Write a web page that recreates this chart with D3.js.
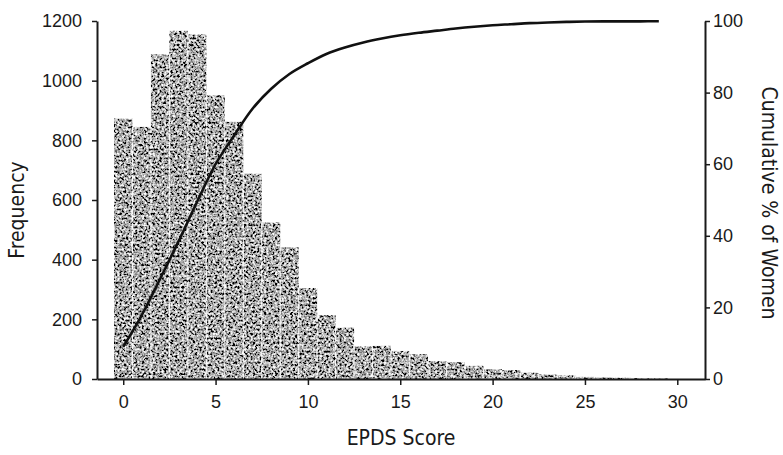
<!DOCTYPE html>
<html>
<head>
<meta charset="utf-8">
<script src="https://cdn.jsdelivr.net/npm/d3@7"></script>
<style>
  body { margin: 0; background: #fff; }
  svg { display: block; font-family: "DejaVu Sans Condensed", "Liberation Sans", Arial, sans-serif; }
  .axis path, .axis line { stroke: #1a1a1a; stroke-width: 1.5; }
  .axis text { fill: #1a1a1a; font-size: 18px; }
</style>
</head>
<body>
<script>
// EPDS score histogram with cumulative percentage curve
var scores = [0, 1, 2, 3, 4, 5, 6, 7, 8, 9, 10, 11, 12, 13, 14, 15,
              16, 17, 18, 19, 20, 21, 22, 23, 24, 25, 26, 27, 28, 29];
var frequency = [873, 845, 1088, 1167, 1155, 951, 862, 688, 525, 441, 305, 214, 172, 109, 111,
                 94, 83, 60, 56, 44, 33, 30, 21, 15, 12, 7, 5, 4, 3, 2];
var cumulativePct = [9, 17.8, 28, 38.5, 49.5, 60, 68, 75.5, 81, 85.2, 88.2, 90.8, 92.6, 94, 95.1,
                     96, 96.7, 97.3, 97.9, 98.4, 98.8, 99.1, 99.4, 99.6, 99.75, 99.85, 99.9, 99.9, 99.9, 99.95];
var xTicks = [0, 5, 10, 15, 20, 25, 30];
var freqTicks = [0, 200, 400, 600, 800, 1000, 1200];
var pctTicks = [0, 20, 40, 60, 80, 100];

var width = 783,
    height = 455,
    plotLeft = 97,
    plotRight = 705,
    plotTop = 21,
    plotBottom = 379;

var svg = d3.select("body").append("svg")
    .attr("width", width)
    .attr("height", height);

var xScale = d3.scaleLinear()
               .domain([-1.42, 31.5])
               .range([plotLeft, plotRight]);

var yScale = d3.scaleLinear()
               .domain([0, 1200])
               .range([plotBottom, plotTop]);

var pctScale = d3.scaleLinear()
                 .domain([0, 100])
                 .range([plotBottom, plotTop]);

// stippled halftone look for the bars
var filter = svg.append("defs").append("filter")
    .attr("id", "stipple")
    .attr("filterUnits", "userSpaceOnUse")
    .attr("x", 0).attr("y", 0)
    .attr("width", width).attr("height", height);
filter.append("feTurbulence")
    .attr("type", "fractalNoise")
    .attr("baseFrequency", 0.45)
    .attr("numOctaves", 2)
    .attr("seed", 7)
    .attr("result", "noise");
filter.append("feColorMatrix")
    .attr("in", "noise")
    .attr("type", "matrix")
    .attr("values", "2.4 0 0 0 -0.8  2.4 0 0 0 -0.8  2.4 0 0 0 -0.8  0 0 0 0 1")
    .attr("result", "grey");
filter.append("feComposite")
    .attr("in", "grey")
    .attr("in2", "SourceGraphic")
    .attr("operator", "in");

svg.append("g")
    .attr("filter", "url(#stipple)")
    .selectAll("rect")
    .data(scores)
    .enter().append("rect")
        .attr("x", function(d) { return xScale(d - 0.5); })
        .attr("width", function(d) { return xScale(d + 0.5) - xScale(d - 0.5); })
        .attr("y", function(d, i) { return yScale(frequency[i]); })
        .attr("height", function(d, i) { return plotBottom - yScale(frequency[i]); })
        .style("fill", "#000");

// faint white seams between neighbouring bars
svg.append("g")
    .selectAll("line")
    .data(scores.slice(1))
    .enter().append("line")
        .attr("x1", function(d) { return xScale(d - 0.5); })
        .attr("x2", function(d) { return xScale(d - 0.5); })
        .attr("y1", function(d, i) { return yScale(Math.min(frequency[i], frequency[i + 1])); })
        .attr("y2", plotBottom)
        .style("stroke", "#fff")
        .style("stroke-width", 1.2)
        .style("stroke-dasharray", "6,2")
        .style("opacity", 0.9);

var line = d3.line()
    .x(function(d) { return xScale(d); })
    .y(function(d, i) { return pctScale(cumulativePct[i]); })
    .curve(d3.curveCatmullRom.alpha(0.5));

svg.append("path")
    .datum(scores)
    .attr("d", line)
    .style("fill", "none")
    .style("stroke", "#111")
    .style("stroke-width", 2.6);

svg.append("g")
    .attr("class", "axis")
    .attr("transform", "translate(0," + plotBottom + ")")
    .call(d3.axisBottom(xScale).tickValues(xTicks).tickSize(6).tickSizeOuter(0).tickPadding(10));

svg.append("g")
    .attr("class", "axis")
    .attr("transform", "translate(" + plotLeft + ",0)")
    .call(d3.axisLeft(yScale).tickValues(freqTicks).tickFormat(d3.format("d"))
          .tickSize(5).tickSizeOuter(0).tickPadding(10));

svg.append("g")
    .attr("class", "axis")
    .attr("transform", "translate(" + plotRight + ",0)")
    .call(d3.axisRight(pctScale).tickValues(pctTicks).tickSize(5).tickSizeOuter(0).tickPadding(3));

svg.selectAll(".axis .domain").style("stroke-width", 2);

svg.append("text")
    .attr("x", (plotLeft + plotRight) / 2)
    .attr("y", 445)
    .attr("text-anchor", "middle")
    .style("font-size", "21px")
    .style("fill", "#1a1a1a")
    .text("EPDS Score");

svg.append("text")
    .attr("transform", "translate(24,210) rotate(-90)")
    .attr("text-anchor", "middle")
    .style("font-size", "21px")
    .style("fill", "#1a1a1a")
    .text("Frequency");

svg.append("text")
    .attr("transform", "translate(762,203) rotate(90)")
    .attr("text-anchor", "middle")
    .style("font-size", "21px")
    .style("fill", "#1a1a1a")
    .text("Cumulative % of Women");
</script>
</body>
</html>
